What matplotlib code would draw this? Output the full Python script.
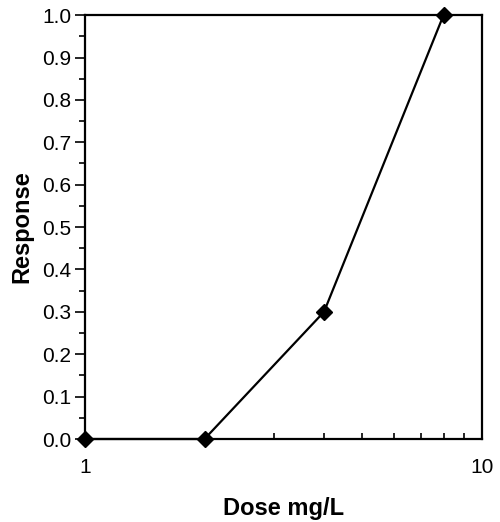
import numpy as np
import matplotlib.pyplot as plt
from matplotlib.ticker import FixedLocator, MultipleLocator

plt.rcParams['font.family'] = ['Liberation Sans', 'DejaVu Sans']

# Data
dose = [1, 2, 4, 8]
response = [0.0, 0.0, 0.3, 1.0]

fig = plt.figure(figsize=(5.0, 5.22), dpi=100)
ax = fig.add_axes([0.17, 0.159, 0.794, 0.812])

ax.plot(dose, response, color='black', linewidth=1.6, marker='D',
        markersize=8.5, clip_on=False, zorder=3)

ax.set_xscale('log')
ax.set_xlim(1, 10)
ax.set_ylim(0, 1.0)
ax.xaxis.set_major_locator(FixedLocator([1, 10]))
ax.xaxis.set_minor_locator(FixedLocator([2, 3, 4, 5, 6, 7, 8, 9]))
ax.xaxis.set_minor_formatter(plt.NullFormatter())
ax.set_xticklabels(['1', '10'])
ax.yaxis.set_major_locator(MultipleLocator(0.1))
ax.yaxis.set_minor_locator(MultipleLocator(0.05))
ax.yaxis.set_major_formatter(plt.FormatStrFormatter('%.1f'))

ax.tick_params(axis='x', which='major', length=0, pad=14, labelsize=15)
ax.tick_params(axis='x', which='minor', length=4, width=1.2, direction='in')
ax.tick_params(axis='y', which='major', length=7, width=1.2, labelsize=15, pad=3, direction='out')
ax.tick_params(axis='y', which='minor', length=4, width=1.2, direction='out')

for s in ax.spines.values():
    s.set_linewidth(1.6)

ax.set_xlabel('Dose mg/L', fontsize=17, fontweight='bold', labelpad=14)
ax.set_ylabel('Response', fontsize=17, fontweight='bold', labelpad=6)

fig.savefig('out.png', dpi=100)
